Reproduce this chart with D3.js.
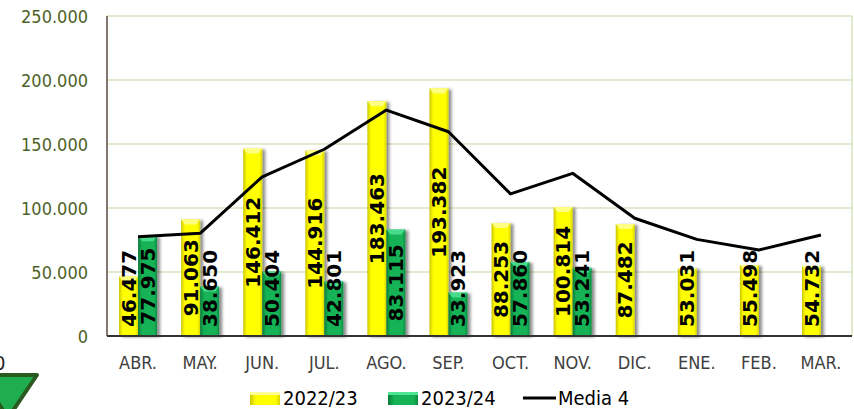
<!DOCTYPE html>
<html>
<head>
<meta charset="utf-8">
<script src="https://cdn.jsdelivr.net/npm/d3@7/dist/d3.min.js"></script>
<style>
  html, body { margin: 0; padding: 0; background: #ffffff; overflow: hidden; }
  svg { display: block; }
  .cond { font-family: "DejaVu Sans Condensed", "DejaVu Sans", sans-serif; font-stretch: condensed; }
</style>
</head>
<body>
<svg id="chart" width="854" height="409"></svg>
<script>
const months = ["ABR.", "MAY.", "JUN.", "JUL.", "AGO.", "SEP.", "OCT.", "NOV.", "DIC.", "ENE.", "FEB.", "MAR."];
const serie2223 = [46477, 91063, 146412, 144916, 183463, 193382, 88253, 100814, 87482, 53031, 55498, 54732];
const serie2324 = [77975, 38650, 50404, 42801, 83115, 33923, 57860, 53241, null, null, null, null];
const media4 = [77600, 80200, 124400, 145900, 176500, 159600, 111000, 127100, 92000, 75500, 67200, 78900];
const yTicks = [0, 50000, 100000, 150000, 200000, 250000];
const legendLabels = ["2022/23", "2023/24", "Media 4"];

const svg = d3.select("#chart");
const M = { left: 107, right: 852, top: 16, bottom: 336 };

const x = d3.scaleBand().domain(months).range([M.left, M.right]).paddingInner(0).paddingOuter(0);
const y = d3.scaleLinear().domain([0, 250000]).range([M.bottom, M.top]);
const fmt = v => d3.format(",")(v).replace(/,/g, ".");

const defs = svg.append("defs");
function hGrad(id, stops) {
  const g = defs.append("linearGradient").attr("id", id).attr("x1", "0").attr("x2", "1").attr("y1", "0").attr("y2", "0");
  stops.forEach(s => g.append("stop").attr("offset", s[0]).attr("stop-color", s[1]));
}
hGrad("gy", [["0%", "#c9c400"], ["14%", "#f2f000"], ["22%", "#ffff00"], ["85%", "#ffff00"], ["100%", "#d8d400"]]);
hGrad("gg", [["0%", "#0a7a3a"], ["14%", "#12a24e"], ["22%", "#16b356"], ["85%", "#16b356"], ["100%", "#0d8a42"]]);
const f = defs.append("filter").attr("id", "shadow").attr("x", "-50%").attr("y", "-10%").attr("width", "200%").attr("height", "130%");
f.append("feDropShadow").attr("dx", 3).attr("dy", 1).attr("stdDeviation", 1.8).attr("flood-color", "#000").attr("flood-opacity", 0.45);

// gridlines
svg.append("g").selectAll("line").data(yTicks.filter(d => d > 0)).join("line")
  .attr("x1", M.left).attr("x2", M.right)
  .attr("y1", d => y(d)).attr("y2", d => y(d))
  .attr("stroke", "#d7e4bd").attr("stroke-width", 1.5);
svg.append("line").attr("x1", M.right).attr("x2", M.right).attr("y1", M.top).attr("y2", M.bottom)
  .attr("stroke", "#d7e4bd").attr("stroke-width", 1.5);

// y axis
const yAxis = d3.axisLeft(y).tickValues(yTicks).tickFormat(fmt).tickSize(0).tickPadding(19);
const ya = svg.append("g").attr("transform", `translate(${M.left},0)`).call(yAxis);
ya.select(".domain").remove();
ya.selectAll("text").attr("class", "cond").attr("font-size", 18).attr("fill", "#4f6228").attr("dy", "0.36em");
svg.append("line").attr("x1", M.left).attr("x2", M.left).attr("y1", M.top).attr("y2", M.bottom)
  .attr("stroke", "#5b4a3f").attr("stroke-width", 1.5);

// bars
const bw = 19;
function drawBars(vals, offset, fillId, capColor, cls) {
  const data = months.map((m, i) => ({ m, v: vals[i] })).filter(d => d.v != null);
  const g = svg.append("g").attr("class", cls);
  g.selectAll("rect").data(data).join("rect")
    .attr("x", d => x(d.m) + x.bandwidth() / 2 + offset)
    .attr("y", d => y(d.v))
    .attr("width", bw)
    .attr("height", d => y(0) - y(d.v))
    .attr("fill", `url(#${fillId})`)
    .attr("filter", "url(#shadow)");
  g.selectAll("polygon").data(data).join("polygon")
    .attr("points", d => {
      const x0 = x(d.m) + x.bandwidth() / 2 + offset, t = y(d.v);
      return `${x0},${t} ${x0 + bw},${t} ${x0 + bw - 4},${t + 5} ${x0 + 4},${t + 5}`;
    })
    .attr("fill", capColor).attr("opacity", 0.85);
  return data;
}
const dY = drawBars(serie2223, -bw, "gy", "#ffff99", "b1");
const dG = drawBars(serie2324, 0, "gg", "#4fe394", "b2");

// bottom axis
svg.append("line").attr("x1", M.left).attr("x2", M.right).attr("y1", M.bottom).attr("y2", M.bottom)
  .attr("stroke", "#333333").attr("stroke-width", 2);
const xAxis = d3.axisBottom(x).tickSize(0).tickPadding(20);
const xa = svg.append("g").attr("transform", `translate(0,${M.bottom})`).call(xAxis);
xa.select(".domain").remove();
xa.selectAll("text").attr("class", "cond").attr("font-size", 18).attr("fill", "#404040").attr("dy", "0.71em");

// line
const line = d3.line().x((d, i) => x(months[i]) + x.bandwidth() / 2).y(d => y(d));
svg.append("path").datum(media4).attr("d", line).attr("fill", "none")
  .attr("stroke", "#000").attr("stroke-width", 3).attr("stroke-linejoin", "round");

// labels
function drawLabels(data, offset) {
  const g = svg.append("g");
  data.forEach(d => {
    const cx = x(d.m) + x.bandwidth() / 2 + offset + bw / 2;
    const t = g.append("text").text(fmt(d.v))
      .attr("font-family", "DejaVu Sans, sans-serif").attr("font-weight", "bold")
      .attr("font-size", 20).attr("fill", "#000").attr("text-anchor", "middle").attr("dy", "0.36em");
    const len = t.node().getComputedTextLength();
    let cy = (y(d.v) + y(0)) / 2;
    if (cy + len / 2 > 327) cy = 327 - len / 2;
    t.attr("transform", `translate(${cx},${cy}) rotate(-90)`);
  });
}
drawLabels(dY, -bw);
drawLabels(dG, 0);

// legend
const lg = svg.append("g");
lg.append("rect").attr("x", 250).attr("y", 392).attr("width", 30).attr("height", 13).attr("fill", "url(#gy)");
lg.append("rect").attr("x", 250).attr("y", 392).attr("width", 30).attr("height", 3).attr("fill", "#ffff99");
lg.append("text").attr("class", "cond").attr("x", 283).attr("y", 405).attr("font-size", 20).attr("fill", "#000").text(legendLabels[0]);
lg.append("rect").attr("x", 388).attr("y", 392).attr("width", 30).attr("height", 13).attr("fill", "url(#gg)");
lg.append("rect").attr("x", 388).attr("y", 392).attr("width", 30).attr("height", 3).attr("fill", "#4fe394");
lg.append("text").attr("class", "cond").attr("x", 421).attr("y", 405).attr("font-size", 20).attr("fill", "#000").text(legendLabels[1]);
lg.append("line").attr("x1", 523).attr("x2", 556).attr("y1", 398).attr("y2", 398).attr("stroke", "#000").attr("stroke-width", 3);
lg.append("text").attr("class", "cond").attr("x", 558).attr("y", 405).attr("font-size", 20).attr("fill", "#000").text(legendLabels[2]);

// left-edge fragments of neighbouring content
svg.append("text").attr("class", "cond").attr("x", -6).attr("y", 370).attr("font-size", 20).attr("fill", "#222").text("0");
svg.append("polygon").attr("points", "-20,375 37,375 8,418")
  .attr("fill", "#1fae4f").attr("stroke", "#2a5a1f").attr("stroke-width", 4).attr("stroke-linejoin", "round");
</script>
</body>
</html>
